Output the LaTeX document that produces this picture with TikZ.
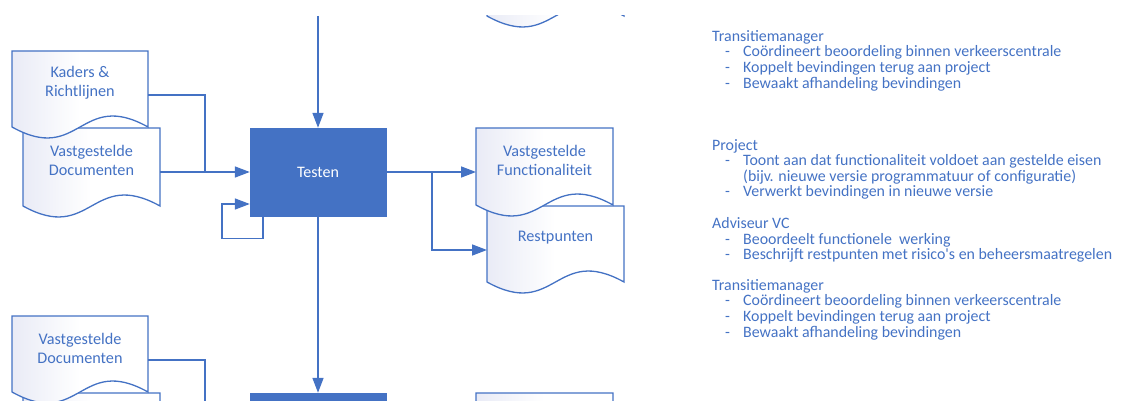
\documentclass[tikz,border=0pt]{standalone}
\usepackage{fontspec}
\setmainfont{Carlito}
\usetikzlibrary{arrows.meta}
\definecolor{mainblue}{HTML}{4472C4}
\definecolor{docshade}{HTML}{E9EBF6}
\tikzset{
  docstyle/.style={draw=mainblue, line width=1.3pt, left color=docshade, right color=white, middle color=white},
  doctext/.style={text=mainblue, font=\fontsize{16.2}{19}\selectfont, align=center, inner sep=0pt},
  procbox/.style={fill=mainblue, draw=mainblue, minimum width=136pt, minimum height=88pt, text=white, font=\fontsize{16}{19}\selectfont, inner sep=0pt},
  conn/.style={draw=mainblue, line width=1.6pt},
  arr/.style={conn, -{Triangle[length=15pt,width=11pt]}},
  rtext/.style={anchor=base west, text=mainblue, font=\fontsize{15.9}{15.7}\selectfont, inner sep=0pt},
}
\newcommand\docshape[7]{%
  \path[docstyle] (#2,#3) -- ({#2+#4},#3) -- ({#2+#4},{#3+#5}) .. controls ({#2+#4/2},{#3+#5-38}) and ({#2+#4/2},{#3+#5+38}) .. (#2,{#3+#5}) -- cycle;
  \node[doctext] (#1) at ({#2+#4/2},{#3+#6}) {#7};
  \coordinate (#1-w) at (#2,{#3+44});
  \coordinate (#1-e) at ({#2+#4},{#3+44});
}
\newcommand\bul{\makebox[18pt][l]{-}}
\begin{document}
\begin{tikzpicture}[x=1pt,y=-1pt]
\useasboundingbox (0,0) rectangle (1130,401);
\begin{scope}
\clip (0,16) rectangle (700,401);
% previous row remnant
\docshape{rp0}{487}{-60}{137}{76}{32}{}
% row 1
\docshape{vd}{23}{128}{137}{78}{32.5}{Vastgestelde\\Documenten}
\docshape{kaders}{12}{51}{136}{76}{31.5}{Kaders \&\\Richtlijnen}
\docshape{rp}{487}{206}{137}{76}{32}{Restpunten}
\docshape{vf}{476}{128}{137}{77}{32.5}{Vastgestelde\\Functionaliteit}
\node[procbox] (testen) at (318,172) {Testen};
% row 2
\docshape{vd3}{23}{393}{137}{78}{32.5}{}
\docshape{vd2}{12}{316}{136}{76}{32}{Vastgestelde\\Documenten}
\docshape{vf3}{476}{393}{137}{77}{32.5}{}
\node[procbox] (test2) at (318,437) {};
% connectors
\coordinate (topin) at (318,16);
\coordinate (j1) at (205,172);
\coordinate (j2) at (432,172);
\coordinate (fb) at (222,238.5);
\coordinate (j3) at (205,410);
\draw[arr] (topin) -- (testen.north);
\draw[conn] (kaders-e) -| (j1);
\draw[arr] (vd-e) -- (testen.west);
\draw[arr] ([xshift=13pt]testen.south west) |- (fb) |- ([yshift=-32pt]testen.west);
\draw[arr] (testen.east) -- (vf-w);
\draw[arr] (j2) |- (rp-w);
\draw[arr] (testen.south) -- (test2.north);
\draw[conn] (vd2-e) -| (j3);
\end{scope}
% right text
\node[rtext] (t1) at (712,41.5) {Transitiemanager};
\node[rtext] (t2) at (725,57) {\bul Coördineert beoordeling binnen verkeerscentrale};
\node[rtext] (t3) at (725,72.5) {\bul Koppelt bevindingen terug aan project};
\node[rtext] (t4) at (725,88.5) {\bul Bewaakt afhandeling bevindingen};
\node[rtext] (t5) at (712,150.5) {Project};
\node[rtext] (t6) at (725,165.5) {\bul Toont aan dat functionaliteit voldoet aan gestelde eisen};
\node[rtext] (t7) at (743,181.5) {(bijv. nieuwe versie programmatuur of configuratie)};
\node[rtext] (t8) at (725,196.5) {\bul Verwerkt bevindingen in nieuwe versie};
\node[rtext] (t9) at (712,228.5) {Adviseur VC};
\node[rtext] (t10) at (725,244.5) {\bul Beoordeelt functionele\ \ werking};
\node[rtext] (t11) at (725,259.5) {\bul Beschrijft restpunten met risico\textquotesingle s en beheersmaatregelen};
\node[rtext] (t12) at (712,290.5) {Transitiemanager};
\node[rtext] (t13) at (725,305.5) {\bul Coördineert beoordeling binnen verkeerscentrale};
\node[rtext] (t14) at (725,321.5) {\bul Koppelt bevindingen terug aan project};
\node[rtext] (t15) at (725,337.5) {\bul Bewaakt afhandeling bevindingen};
\end{tikzpicture}
\end{document}
